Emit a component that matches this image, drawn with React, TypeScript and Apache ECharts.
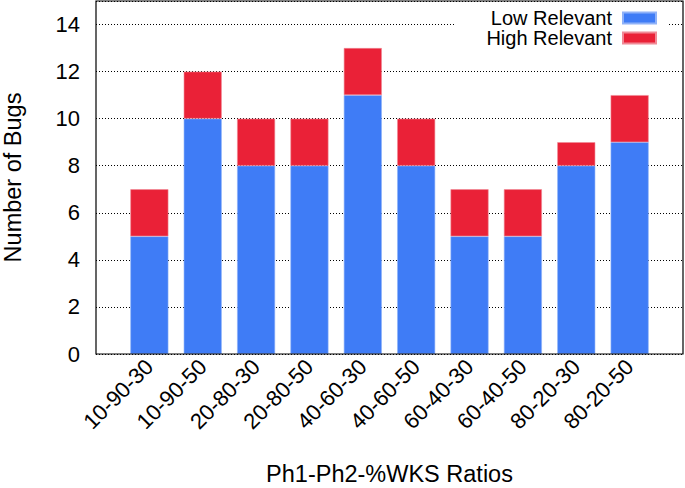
import React, { useEffect, useRef } from "react";
import * as echarts from "echarts";

const categories = ["10-90-30", "10-90-50", "20-80-30", "20-80-50", "40-60-30", "40-60-50", "60-40-30", "60-40-50", "80-20-30", "80-20-50"];
const lowRelevant = [5, 10, 8, 8, 11, 8, 5, 5, 8, 9];
const highRelevant = [2, 2, 2, 2, 2, 2, 2, 2, 1, 2];
const seriesNames = ["Low Relevant", "High Relevant"];
const xTitle = "Ph1-Ph2-%WKS Ratios";
const yTitle = "Number of Bugs";

const FONT = "'Liberation Sans', Arial, Helvetica, sans-serif";

export default function App() {
  const ref = useRef<HTMLDivElement>(null);
  useEffect(() => {
    if (!ref.current) return;
    const chart = echarts.init(ref.current, null, { renderer: "svg" });
    const cats = ["", ...categories, ""];
    const pad = (arr: number[]) => ["-", ...arr, "-"];
    chart.setOption({
      animation: false,
      backgroundColor: "#ffffff",
      textStyle: { fontFamily: FONT },
      grid: {
        left: 96,
        right: 2,
        top: 1,
        bottom: 134,
        outerBoundsMode: "none",
        containLabel: false,
        show: true,
        borderColor: "#000",
        borderWidth: 1.2,
        backgroundColor: "transparent",
        z: 10,
      },
      legend: {
        orient: "vertical",
        right: 17,
        top: 5,
        align: "right",
        itemWidth: 33,
        itemHeight: 11,
        itemGap: 0,
        backgroundColor: "#ffffff",
        padding: [3, 11, 3, 31],
        icon: "rect",
        textStyle: { fontFamily: FONT, fontSize: 20, lineHeight: 20, color: "#000", padding: [0, 6, 0, 0] },
        data: seriesNames,
      },
      xAxis: {
        type: "category",
        data: cats,
        boundaryGap: false,
        axisLine: { show: false },
        axisTick: { show: false },
        splitLine: { show: false },
        axisLabel: {
          rotate: 45,
          interval: 0,
          fontSize: 22,
          color: "#000",
          fontFamily: FONT,
          margin: 9,
        },
        name: xTitle,
        nameLocation: "middle",
        nameGap: 108,
        nameTextStyle: { fontSize: 23.5, color: "#000", fontFamily: FONT },
      },
      yAxis: {
        type: "value",
        min: 0,
        max: 15,
        interval: 2,
        axisLine: { show: false },
        axisTick: { show: false },
        splitLine: {
          show: true,
          lineStyle: { color: "#000", width: 1, type: [1, 2] },
        },
        axisLabel: {
          fontSize: 22,
          color: "#000",
          fontFamily: FONT,
          margin: 16,
          formatter: (v: number) => (v > 14 ? "" : String(v)),
        },
        name: yTitle,
        nameLocation: "middle",
        nameGap: 71,
        nameTextStyle: { fontSize: 23.5, color: "#000", fontFamily: FONT },
      },
      series: [
        {
          name: seriesNames[0],
          type: "bar",
          stack: "bugs",
          barWidth: 38,
          data: pad(lowRelevant),
          itemStyle: { color: "#3f7cf6", borderColor: "#8fb2f8", borderWidth: 0.6 },
        },
        {
          name: seriesNames[1],
          type: "bar",
          stack: "bugs",
          barWidth: 38,
          data: pad(highRelevant),
          itemStyle: { color: "#ea2137", borderColor: "#f08a96", borderWidth: 0.6 },
        },
      ],
    });
    return () => chart.dispose();
  }, []);
  return (
    <div
      ref={ref}
      style={{ position: "fixed", left: 0, top: 0, width: 685, height: 488 }}
    />
  );
}
